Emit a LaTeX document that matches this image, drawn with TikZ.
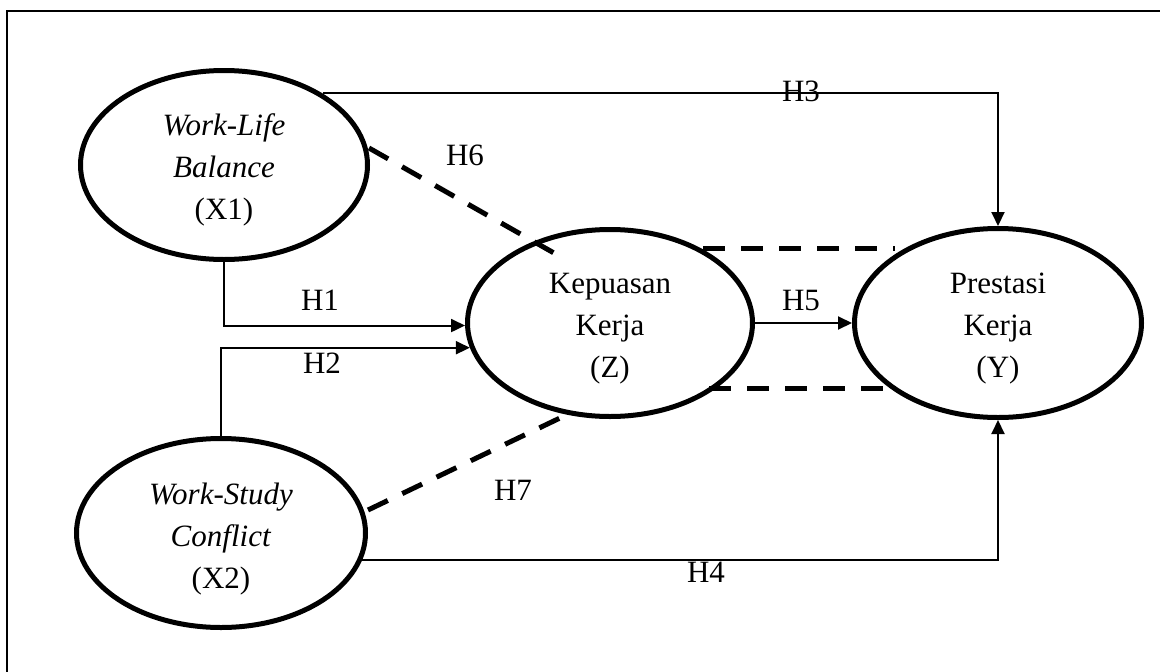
\documentclass[tikz,border=0pt]{standalone}
\usepackage{fontspec}
\setmainfont{Liberation Serif}
\usetikzlibrary{shapes.geometric,arrows.meta}
\begin{document}
\begin{tikzpicture}[x=1pt,y=-1pt,
  latent/.style={ellipse,draw,line width=5pt,inner sep=0pt},
  latenttext/.style={inner sep=0pt,align=center,font=\fontsize{31}{42}\selectfont},
  conn/.style={line width=2pt,-{Triangle[length=14pt,width=13pt]}},
  dashline/.style={line width=5pt,dash pattern=on 22pt off 16pt},
  hlabel/.style={font=\fontsize{31}{36}\selectfont,inner sep=0pt},
  frameline/.style={line width=2pt}]
\useasboundingbox (0,0) rectangle (1160,672);
% frame (only top and left edges visible)
\coordinate (fb) at (7,672);
\coordinate (fc) at (7,11);
\coordinate (fr) at (1160,11);
\draw[frameline] (fb) -- (fc) -- (fr);

% latent variables
\node[latent,minimum width=287pt,minimum height=189pt] (X1) at (224,165) {};
\node[latent,minimum width=285pt,minimum height=187pt] (Z) at (610,323) {};
\node[latent,minimum width=287pt,minimum height=189pt] (Y) at (998,323) {};
\node[latent,minimum width=289pt,minimum height=189pt] (X2) at (221,533) {};
\node[latenttext] (X1t) at ([yshift=-5pt]X1.center)
  {\textit{Work-Life}\\\textit{Balance}\\(X1)};
\node[latenttext] (Zt) at ([yshift=-6pt]Z.center)
  {Kepuasan\\Kerja\\(Z)};
\node[latenttext] (Yt) at ([yshift=-6pt]Y.center)
  {Prestasi\\Kerja\\(Y)};
\node[latenttext] (X2t) at ([yshift=-6pt]X2.center)
  {\textit{Work-Study}\\\textit{Conflict}\\(X2)};

% direct paths
\draw[conn] (X1.south) |- (Z.181);
\draw[conn] (X2.north) |- (Z.190.5);
\draw[conn] (X1.36) -| (Y.north);
\draw[conn] (X2.-11) -| (Y.south);
\draw[conn] (Z.east) -- (Y.west);

% mediated (dashed) paths
\coordinate (h6a) at (369,148);
\coordinate (h6b) at (561,257);
\coordinate (h7a) at (368,510);
\coordinate (h7b) at (560,418);
\coordinate (dta) at (703,248);
\coordinate (dtb) at (895,248);
\coordinate (dba) at (709,388);
\coordinate (dbb) at (897,388);
\draw[dashline] (h6a) -- (h6b);
\draw[dashline] (h7a) -- (h7b);
\draw[dashline] (dta) -- (dtb);
\draw[dashline] (dba) -- (dbb);

% labels
\node[hlabel] (H1) at (320,300) {H1};
\node[hlabel] (H2) at (322,363) {H2};
\node[hlabel] (H3) at (801,91) {H3};
\node[hlabel] (H4) at (706,572) {H4};
\node[hlabel] (H5) at (801,300) {H5};
\node[hlabel] (H6) at (465,155) {H6};
\node[hlabel] (H7) at (513,490) {H7};
\end{tikzpicture}
\end{document}
